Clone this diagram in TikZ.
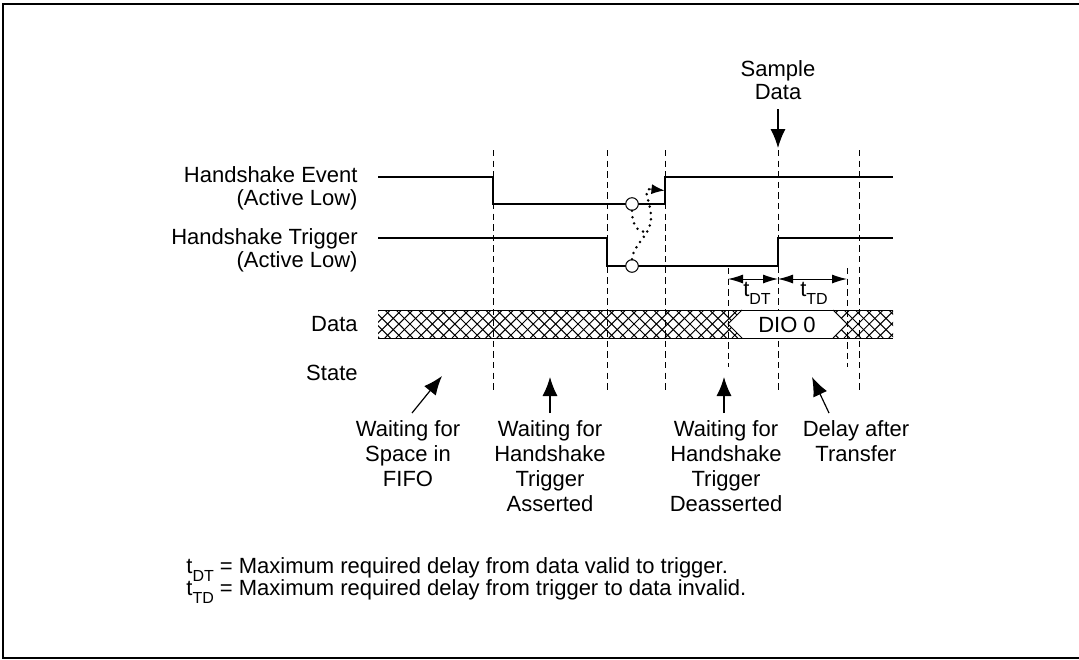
\documentclass[tikz,border=0pt]{standalone}
\usepackage{fontspec}
\setmainfont{Liberation Sans}
\usetikzlibrary{arrows.meta, calc}
\tikzstyle{signal}=[line width=0.75pt]
\tikzstyle{vdash}=[line width=0.5pt, dash pattern=on 3.2pt off 2.1pt]
\tikzstyle{hatch}=[line width=0.5pt]
\tikzstyle{lbl}=[inner sep=0pt, font=\fontsize{11pt}{11.5pt}\selectfont]
\tikzstyle{statelbl}=[inner sep=0pt, outer sep=4pt, align=center, anchor=north, font=\fontsize{11pt}{12.5pt}\selectfont]
\tikzstyle{bigarrow}=[line width=0.6pt, -{Latex[length=9.5pt, width=7.5pt]}]
\tikzstyle{dimarrow}=[line width=0.5pt, {Latex[length=7.5pt, width=4.5pt]}-{Latex[length=7.5pt, width=4.5pt]}]
\tikzstyle{dotarrow}=[line width=1.4pt, line cap=round, dash pattern=on 0pt off 3.2pt]
\tikzstyle{edgecirc}=[circle, draw, fill=white, line width=0.5pt, inner sep=0pt, minimum size=6.3pt]
\newcommand{\tsub}[1]{t\raisebox{-4.3pt}{\fontsize{8pt}{8pt}\selectfont #1}}

\begin{document}
\begin{tikzpicture}[x=0.5pt, y=-0.5pt]
	\useasboundingbox (0,0) rectangle (1079,659);
	% Frame
	\draw[line width=1.1pt] (1090,4) -- (3,4) -- (3,658) -- (1090,658);

	% Signal names
	\node[lbl, align=right, anchor=north east] (evlbl) at (358,166) {Handshake Event\\(Active Low)};
	\node[lbl, align=right, anchor=north east] (trlbl) at (358,228) {Handshake Trigger\\(Active Low)};
	\node[lbl, anchor=base east] (datalbl) at (358,331) {Data};
	\node[lbl, anchor=base east] (statelbl) at (358,380) {State};

	% Dashed time marks
	\foreach \x in {493, 607, 665, 778, 859}{ \draw[vdash] (\x,150) -- (\x,392); }
	\foreach \x in {728, 847}{ \draw[vdash] (\x,268) -- (\x,367); }

	% Handshake Event and Handshake Trigger
	\draw[signal] (378,177) -- (493,177) -- (493,204) -- (665,204) -- (665,177) -- (893,177);
	\draw[signal] (378,238) -- (607,238) -- (607,266) -- (778,266) -- (778,238) -- (893,238);
	\node[edgecirc] (evcirc) at (632,204) {};
	\node[edgecirc] (trcirc) at (632,266) {};
	\coordinate (evrise) at (664.5,190.5);
	\draw[dotarrow] (trcirc.north) .. controls (634,242) and (652,236) .. (651,215) .. controls (650,200) and (642,189) .. (650,189);
	\draw[-{Latex[length=6.5pt, width=5pt]}, line width=0.5pt] (650,189) -- (evrise);
	\draw[dotarrow] (evcirc.south) .. controls (632,228) and (640,234) .. (649,231);

	% Data bus
	\begin{scope}
		\clip (378,310) -- (742,310) -- (728,324) -- (742,338) -- (378,338) -- cycle
			(833,310) -- (893,310) -- (893,338) -- (833,338) -- (847,324) -- cycle;
		\foreach \x in {340,351.2,...,905}{ \draw[hatch] (\x,310) -- ++(28,28) (\x,338) -- ++(28,-28); }
	\end{scope}
	\fill[white] (742,310) -- (833,310) -- (847,324) -- (833,338) -- (742,338) -- (728,324) -- cycle;
	\draw[hatch] (378,310) -- (893,310) (378,338) -- (893,338);
	\draw[hatch] (742,310) -- (728,324) -- (742,338) (833,310) -- (847,324) -- (833,338);
	\node[lbl, anchor=base] (dio) at (787,332) {DIO 0};

	% Sample point and timing
	\node[lbl, align=center, anchor=south, outer sep=4.5pt] (sample) at (778,109) {Sample\\Data};
	\coordinate (sampletip) at (778,148);
	\draw[bigarrow] (sample.south) -- (sampletip);
	\coordinate (dtl) at (728,279);
	\coordinate (dtm) at (778,279);
	\coordinate (dtr) at (847,279);
	\draw[dimarrow] (dtl) -- (dtm);
	\draw[dimarrow] (dtm) -- (dtr);
	\node[lbl, anchor=base] (tdt) at (757,296) {\tsub{DT}};
	\node[lbl, anchor=base] (ttd) at (814,296) {\tsub{TD}};

	% States
	\node[statelbl] (fifo) at (408,413) {Waiting for\\Space in\\FIFO};
	\node[statelbl] (asserted) at (550,413) {Waiting for\\Handshake\\Trigger\\Asserted};
	\node[statelbl] (deasserted) at (726,413) {Waiting for\\Handshake\\Trigger\\Deasserted};
	\node[statelbl] (delay) at (856,413) {Delay after\\Transfer};
	\coordinate (fifotip) at (442,376);
	\coordinate (assertedtip) at (550,377);
	\coordinate (deassertedtip) at (724,377);
	\coordinate (delaytip) at (812,377);
	\draw[bigarrow] ([xshift=2pt]fifo.north) -- (fifotip);
	\draw[bigarrow] (asserted.north) -- (assertedtip);
	\draw[bigarrow] ([xshift=-1pt]deasserted.north) -- (deassertedtip);
	\draw[bigarrow] ([xshift=-13.5pt]delay.north) -- (delaytip);

	% Notes
	\node[lbl, anchor=base west] (notedt) at (186,573) {\tsub{DT} = Maximum required delay from data valid to trigger.};
	\node[lbl, anchor=base west] (notetd) at (186,595) {\tsub{TD} = Maximum required delay from trigger to data invalid.};
\end{tikzpicture}
\end{document}
